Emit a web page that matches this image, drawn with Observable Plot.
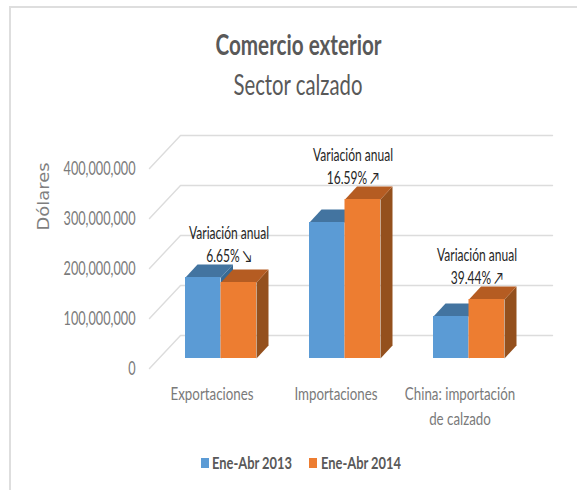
<!DOCTYPE html>
<html><head><meta charset="utf-8">
<script src="https://cdn.jsdelivr.net/npm/d3@7"></script>
<script src="https://cdn.jsdelivr.net/npm/@observablehq/plot@0.6"></script>
<style>
html,body{margin:0;padding:0;background:#fff;width:577px;height:490px;overflow:hidden}
#frame{position:absolute;left:9px;top:6px;width:568px;height:484px;border-left:2.5px solid #dedede;border-top:2.5px solid #dedede;box-sizing:border-box}
#head{position:absolute;left:0;top:0;width:596px;height:100px;text-align:center;font-family:Lato,"Open Sans",sans-serif;color:#595959}
#t1{position:absolute;top:28px;width:100%;line-height:32px}
#t2{position:absolute;top:68px;width:100%;line-height:32px}
#t1 span{display:inline-block;font-size:29px;font-weight:700}
#t2 span{display:inline-block;font-size:28px}
#chart{position:absolute;left:0;top:100px}
#legend{position:absolute;left:0;top:452px;width:577px;height:22px;font:700 17px/22px Lato,"Open Sans",sans-serif;color:#595959}
#legend i{position:absolute;top:6px;width:8px;height:10px}
#legend span{position:absolute;top:0;white-space:nowrap;transform-origin:0 50%}
</style></head><body>
<div id="frame"></div>
<div id="head"><div id="t1"><span>Comercio exterior</span></div><div id="t2"><span>Sector calzado</span></div></div>
<div id="chart"></div>
<div id="legend"></div>
<script>
const categories = ["Exportaciones", "Importaciones", "China: importación\nde calzado"];
const series2013 = [162000000, 272000000, 84000000];
const series2014 = [152000000, 318000000, 118000000];
const seriesNames = ["Ene-Abr 2013", "Ene-Abr 2014"];
const variation = ["Variación anual\n6.65% ↘", "Variación anual\n16.59% ↗", "Variación anual\n39.44% ↗"];
const yTicks = [0, 100000000, 200000000, 300000000, 400000000];

const font = 'Lato,"Open Sans",sans-serif';
const pxX = 124, pxY = 2000000;
const idx = categories.map((_, i) => i);
const barW = 35.5 / pxX, depthX = 12 / pxX, depthY = 13 * pxY;

const frontX = (149 - 220.5) / pxX, backX = (180 - 220.5) / pxX, endX = (552 - 220.5) / pxX;
const gridFront = 10 * pxY, gridBack = 23 * pxY;
const grid = yTicks.flatMap(v => [
  {id: v, x: frontX, y: v - gridFront},
  {id: v, x: backX, y: v + gridBack},
  {id: v, x: endX, y: v + gridBack}
]);

function faces(values, shift) {
  const top = [], side = [], front = [];
  values.forEach((v, i) => {
    const a = i + shift * barW, b = a + barW;
    front.push({x1: a, x2: b, y: v});
    top.push({id: i, x: a, y: v}, {id: i, x: a + depthX, y: v + depthY}, {id: i, x: b + depthX, y: v + depthY}, {id: i, x: b, y: v});
    side.push({id: i, x: b, y: 0}, {id: i, x: b + depthX, y: depthY}, {id: i, x: b + depthX, y: v + depthY}, {id: i, x: b, y: v});
  });
  return {top, side, front};
}
function barMarks(values, shift, main, topC, sideC) {
  const f = faces(values, shift);
  return [
    Plot.line(f.side, {x: "x", y: "y", z: "id", fill: sideC, stroke: "none"}),
    Plot.line(f.top, {x: "x", y: "y", z: "id", fill: topC, stroke: "none"}),
    Plot.rectY(f.front, {x1: "x1", x2: "x2", y1: 0, y2: "y", fill: main})
  ];
}
const labelTop = idx.map(i => Math.max(series2013[i], series2014[i]));

const plot = Plot.plot({
  width: 577, height: 340,
  marginLeft: 141, marginBottom: 60, marginTop: 0, marginRight: 0,
  style: {background: "transparent", fontFamily: font},
  x: {type: "linear", domain: [0, 2], range: [220.5, 468.5], axis: null},
  y: {type: "linear", domain: [0, 400000000], range: [258, 58], axis: null},
  marks: [
    Plot.line(grid, {x: "x", y: "y", z: "id", stroke: "#dcdcdc", strokeWidth: 1.4}),
    ...barMarks(series2013, -1, "#5b9bd5", "#4374a0", "#386a93"),
    ...barMarks(series2014, 0, "#ed7d31", "#b55c22", "#94501d"),
    Plot.axisY({ticks: yTicks, tickSize: 0, tickPadding: 6, dy: 10, label: null, tickFormat: d3.format(","),
      fontSize: 19, fill: "#7a7a7a", className: "ytick"}),
    Plot.axisX({ticks: idx, tickSize: 0, tickPadding: 2, label: null, tickFormat: i => categories[i], dx: -9,
      fontSize: 18, lineHeight: 1.39, lineAnchor: "top", fill: "#7a7a7a", className: "xtick"}),
    Plot.text(["Dólares"], {frameAnchor: "left", dx: -98, y: [324000000], rotate: -90, textAnchor: "middle",
      fontSize: 16, fontFamily: "DejaVu Sans", fill: "#7f7f7f", className: "ylabel"}),
    Plot.text(idx, {x: idx, y: labelTop, text: i => variation[i], dx: 8, dy: -16, lineAnchor: "bottom",
      fontSize: 17, lineHeight: 1.3, fill: "#262626", className: "note"})
  ]
});
document.getElementById("chart").appendChild(plot);

// Condense text horizontally to match the reference's narrow look
function condense(cls, ratio) {
  plot.querySelectorAll(`.${cls} text`).forEach(t => {
    t.setAttribute("transform", (t.getAttribute("transform") || "") + ` scale(${ratio},1)`);
  });
}
function widthOf(str, size, weight, family) {
  const c = document.createElement("canvas").getContext("2d");
  c.font = `${weight} ${size}px ${family}`;
  return c.measureText(str).width;
}
condense("ytick", 72 / widthOf("400,000,000", 19, 400, font));
condense("xtick", 83 / widthOf("Exportaciones", 18, 400, font));
condense("note", 80 / widthOf("Variación anual", 17, 400, font));
condense("ylabel", 68 / widthOf("Dólares", 16, 400, "DejaVu Sans"));

const t1 = document.querySelector("#t1 span"), t2 = document.querySelector("#t2 span");
t1.style.transform = `scaleX(${166 / t1.getBoundingClientRect().width})`;
t2.style.transform = `scaleX(${129 / t2.getBoundingClientRect().width})`;

const legend = document.getElementById("legend");
[[200.5, 212, "#5b9bd5"], [309, 321, "#ed7d31"]].forEach(([sx, tx, c], i) => {
  const sw = document.createElement("i"); sw.style.left = sx + "px"; sw.style.background = c; legend.appendChild(sw);
  const t = document.createElement("span"); t.style.left = tx + "px"; t.textContent = seriesNames[i]; legend.appendChild(t);
  t.style.transform = `scaleX(${80 / t.getBoundingClientRect().width})`;
});
</script>
</body></html>
